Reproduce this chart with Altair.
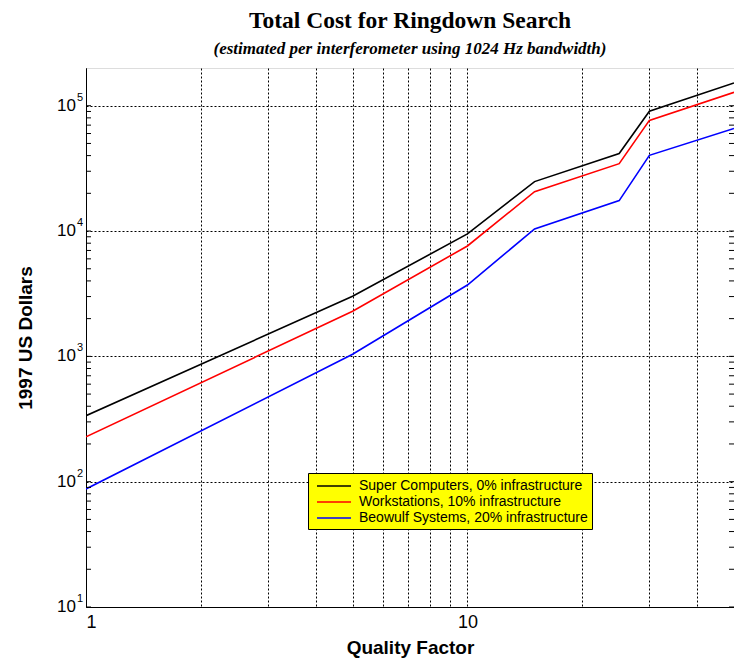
import altair as alt
import pandas as pd

# Quality factor sample points and estimated cost (1997 US dollars)
quality = [1, 5, 10, 15, 25, 30, 50]
super_computers = [336, 3020, 9480, 24800, 41600, 90300, 152000]
workstations = [228, 2290, 7600, 20600, 34500, 76400, 128000]
beowulf = [87.5, 1040, 3710, 10400, 17500, 40200, 65800]

series_names = [
    "Super Computers, 0% infrastructure",
    "Workstations, 10% infrastructure",
    "Beowulf Systems, 20% infrastructure",
]
series_colors = ["black", "red", "blue"]

decades = [10, 100, 1000, 10000, 100000]
exponents = ["1", "2", "3", "4", "5"]
x_grid = [1, 2, 3, 4, 5, 6, 7, 8, 9, 10, 20, 30, 40]
y_minor = [m * d for d in [10, 100, 1000, 10000] for m in range(1, 10)] + [100000]

W, H = 648, 539
LABEL_FONT = "Liberation Sans"

rows = []
for name, vals in zip(series_names, [super_computers, workstations, beowulf]):
    for q, v in zip(quality, vals):
        rows.append({"series": name, "q": q, "cost": v})
df = pd.DataFrame(rows)

xscale = alt.Scale(type="log", domain=[1, 50], nice=False)
yscale = alt.Scale(type="log", domain=[10, 200000], nice=False)

lines = alt.Chart(df).mark_line(strokeWidth=1.6, clip=True).encode(
    x=alt.X(
        "q:Q",
        scale=xscale,
        axis=alt.Axis(
            values=x_grid,
            labelExpr="(datum.value == 1 || datum.value == 10) ? format(datum.value, 'd') : ''",
            ticks=False,
            grid=True,
            gridDash=[2, 2],
            gridColor="black",
            gridOpacity=1,
            domainColor="black",
            labelFont=LABEL_FONT,
            labelFontSize=18,
            labelColor="black",
            labelPadding=6,
            title="Quality Factor",
            titleFont=LABEL_FONT,
            titleFontSize=19,
            titleFontWeight="bold",
            titleColor="black",
            titlePadding=7,
        ),
    ),
    y=alt.Y(
        "cost:Q",
        scale=yscale,
        axis=alt.Axis(
            values=decades,
            labels=False,
            ticks=False,
            grid=True,
            gridDash=[2, 2],
            gridColor="black",
            gridOpacity=1,
            domainColor="black",
            title="1997 US Dollars",
            titleFont=LABEL_FONT,
            titleFontSize=19,
            titleFontWeight="bold",
            titleColor="black",
            titlePadding=51,
        ),
    ),
    color=alt.Color(
        "series:N",
        scale=alt.Scale(domain=series_names, range=series_colors),
        legend=alt.Legend(
            title=None,
            orient="none",
            legendX=222,
            legendY=405,
            fillColor="yellow",
            strokeColor="black",
            padding=4,
            rowPadding=0,
            labelFont=LABEL_FONT,
            labelFontSize=14,
            labelColor="black",
            labelLimit=400,
            labelOffset=29,
            # a long flat stroke drawn right of the symbol anchor keeps rows compact
            symbolType="M-0.5,0H3.75",
            symbolSize=256,
            symbolStrokeWidth=1.6,
        ),
    ),
)

# Minor ticks drawn inward on the left and right frame edges
tick_df = pd.DataFrame({"v": y_minor})
left_ticks = alt.Chart(tick_df).mark_rule(color="black", strokeWidth=1).encode(
    y=alt.Y("v:Q", scale=yscale), x=alt.value(0), x2=alt.value(5)
)
right_ticks = alt.Chart(tick_df).mark_rule(color="black", strokeWidth=1).encode(
    y=alt.Y("v:Q", scale=yscale), x=alt.value(W - 5), x2=alt.value(W)
)

# Power-of-ten labels with raised exponents
lab_df = pd.DataFrame({"v": decades, "base": ["10"] * 5, "exp": exponents})
base_text = alt.Chart(lab_df).mark_text(
    align="right", baseline="middle", font=LABEL_FONT, fontSize=17, color="black"
).encode(y=alt.Y("v:Q", scale=yscale), x=alt.value(-10), text="base:N")
exp_text = alt.Chart(lab_df).mark_text(
    align="left", baseline="middle", font=LABEL_FONT, fontSize=11, color="black", dy=-8
).encode(y=alt.Y("v:Q", scale=yscale), x=alt.value(-9), text="exp:N")

chart = (
    alt.layer(lines, left_ticks, right_ticks, base_text, exp_text)
    .properties(
        width=W,
        height=H,
        autosize="none",
        padding={"left": 86, "top": 68, "right": 0, "bottom": 53},
        title=alt.TitleParams(
            text="Total Cost for Ringdown Search",
            subtitle="(estimated per interferometer using 1024 Hz bandwidth)",
            font="Liberation Serif",
            fontSize=23.5,
            fontWeight="bold",
            color="black",
            subtitleFont="Liberation Serif",
            subtitleFontSize=17,
            subtitleFontStyle="italic",
            subtitleFontWeight="bold",
            subtitleColor="black",
            subtitlePadding=9,
            anchor="middle",
            offset=11,
        ),
    )
    .configure_view(fill="#dcdcdc", stroke="black", strokeWidth=1)
    .configure(background="white")
)

chart.save("out.html", embed_options={"renderer": "svg", "actions": False})
